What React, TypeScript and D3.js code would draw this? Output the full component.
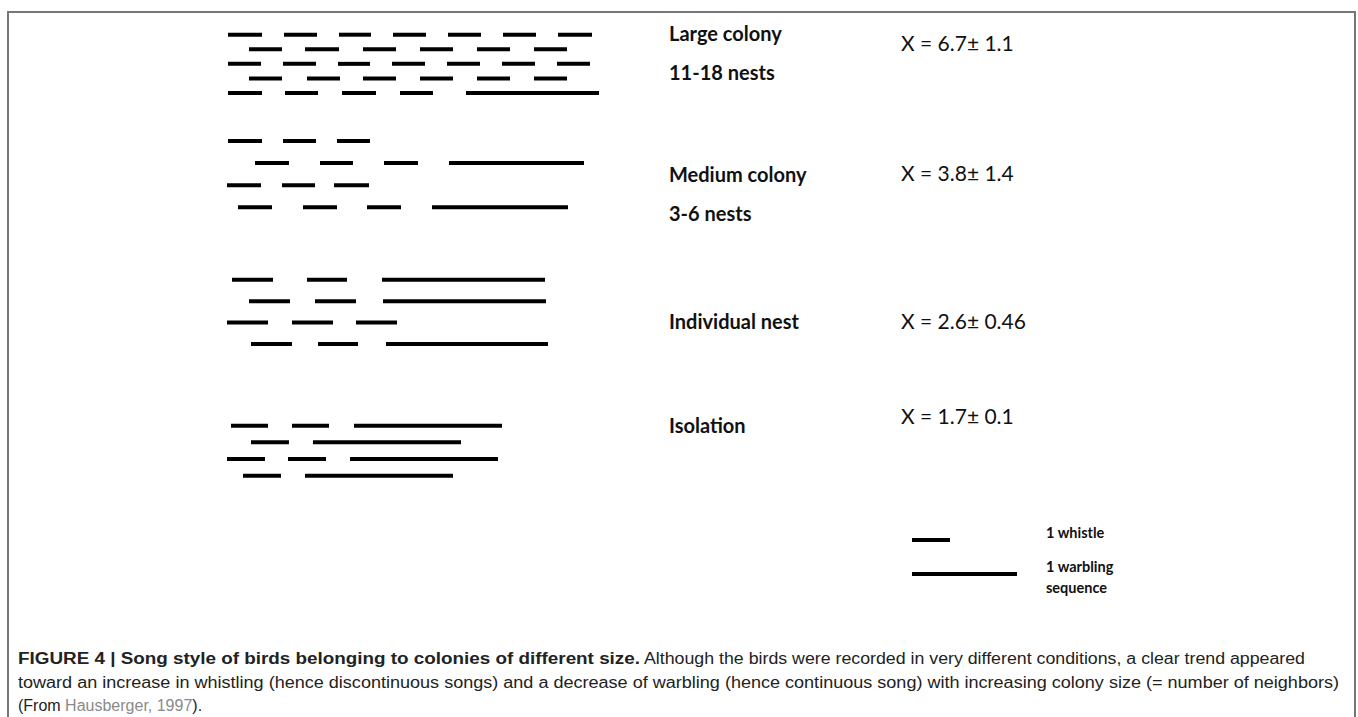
import React from "react";
import * as d3 from "d3";

// ---- data (segment start/end in time units, per row) ----
const groupNames = ["Large colony", "Medium colony", "Individual nest", "Isolation"];
const groupSubNames = ["11-18 nests", "3-6 nests", "", ""];
const groupStats = ["X = 6.7± 1.1", "X = 3.8± 1.4", "X = 2.6± 0.46", "X = 1.7± 0.1"];

const largeRows: [number, number][][] = [
  [[2, 36], [58, 91], [113, 145], [167, 200], [222, 255], [277, 310], [332, 366]],
  [[23, 56], [79, 113], [137, 170], [194, 227], [251, 284], [308, 341]],
  [[2, 35], [57, 90], [112, 144], [166, 199], [221, 254], [276, 309], [331, 364]],
  [[23, 56], [81, 114], [137, 170], [194, 227], [251, 284], [308, 341]],
  [[2, 36], [59, 92], [116, 150], [174, 207], [240, 373]],
];
const mediumRows: [number, number][][] = [
  [[2, 36], [57, 90], [111, 144]],
  [[29, 63], [94, 127], [158, 192], [223, 358]],
  [[1, 35], [56, 89], [108, 143]],
  [[12, 46], [77, 111], [141, 175], [206, 342]],
];
const individualRows: [number, number][][] = [
  [[6, 47], [81, 121], [156, 319]],
  [[23, 64], [89, 130], [157, 320]],
  [[1, 42], [66, 107], [130, 171]],
  [[25, 66], [92, 132], [160, 322]],
];
const isolationRows: [number, number][][] = [
  [[5, 42], [66, 103], [128, 276]],
  [[25, 63], [87, 235]],
  [[1, 39], [62, 100], [124, 272]],
  [[17, 55], [79, 227]],
];
const legendItems = ["1 whistle", "1 warbling"];
const legendLengths = [38, 105];

const captionBold = "FIGURE 4 | Song style of birds belonging to colonies of different size.";
const captionLine1 = "Although the birds were recorded in very different conditions, a clear trend appeared";
const captionLine2 =
  "toward an increase in whistling (hence discontinuous songs) and a decrease of warbling (hence continuous song) with increasing colony size (= number of neighbors)";
const captionRef = "Hausberger, 1997";

const allRows = [largeRows, mediumRows, individualRows, isolationRows];
// vertical extent of each group's rows
const groupRowRanges: [number, number][] = [
  [34.7, 93],
  [141, 207.3],
  [279.7, 344],
  [425.7, 475.7],
];
const labelBaselines = [41, 182, 329, 433];
const statBaselines = [51, 181, 329, 424];

export default function App() {
  const W = 1358;
  const H = 717;
  const x = d3.scaleLinear().domain([0, 380]).range([226, 606]);
  const labelFont = "Lato, 'Open Sans', sans-serif";
  const capFont = "'Liberation Sans', Arial, sans-serif";

  return (
    <svg
      width={W}
      height={H}
      style={{ position: "absolute", left: 0, top: 0, background: "#fff" }}
    >
      <path d={`M8,${H} V12 H1355 V${H}`} fill="none" stroke="#767676" strokeWidth={2} />

      {allRows.map((rows, gi) => {
        const y = d3
          .scalePoint<number>()
          .domain(d3.range(rows.length))
          .range(groupRowRanges[gi]);
        return (
          <g key={gi}>
            {rows.map((segs, ri) =>
              segs.map((s, si) => (
                <line
                  key={`${ri}-${si}`}
                  x1={x(s[0])}
                  x2={x(s[1])}
                  y1={y(ri)}
                  y2={y(ri)}
                  stroke="#000"
                  strokeWidth={4}
                />
              ))
            )}
            <text
              x={669}
              y={labelBaselines[gi]}
              fontFamily={labelFont}
              fontWeight={700}
              fontSize={20}
              fill="#111"
            >
              {groupNames[gi]}
            </text>
            {groupSubNames[gi] && (
              <text
                x={669}
                y={labelBaselines[gi] + 39}
                fontFamily={labelFont}
                fontWeight={700}
                fontSize={20}
                fill="#111"
              >
                {groupSubNames[gi]}
              </text>
            )}
            <text
              x={901}
              y={statBaselines[gi]}
              fontFamily={labelFont}
              fontSize={21}
              fill="#111"
            >
              {groupStats[gi]}
            </text>
          </g>
        );
      })}

      {/* legend */}
      {legendItems.map((t, i) => {
        const ly = [540, 574][i];
        return (
          <g key={t}>
            <line x1={912} x2={912 + legendLengths[i]} y1={ly} y2={ly} stroke="#000" strokeWidth={4} />
            <text x={1046} y={ly - 2} fontFamily={labelFont} fontWeight={700} fontSize={14.5} fill="#111">
              {t}
            </text>
          </g>
        );
      })}
      <text x={1046} y={593} fontFamily={labelFont} fontWeight={700} fontSize={14.5} fill="#111">
        sequence
      </text>

      {/* caption */}
      <text x={18} y={664} fontFamily={capFont} fontWeight={700} fontSize={16} fill="#222"
        textLength={622} lengthAdjust="spacingAndGlyphs">
        {captionBold}
      </text>
      <text x={644} y={664} fontFamily={capFont} fontSize={16} fill="#222"
        textLength={661} lengthAdjust="spacingAndGlyphs">
        {captionLine1}
      </text>
      <text x={18} y={688} fontFamily={capFont} fontSize={16} fill="#222"
        textLength={1321} lengthAdjust="spacingAndGlyphs">
        {captionLine2}
      </text>
      <text x={18} y={711} fontFamily={capFont} fontSize={16} fill="#222">
        (From <tspan fill="#8a8a8a">{captionRef}</tspan>).
      </text>
    </svg>
  );
}
